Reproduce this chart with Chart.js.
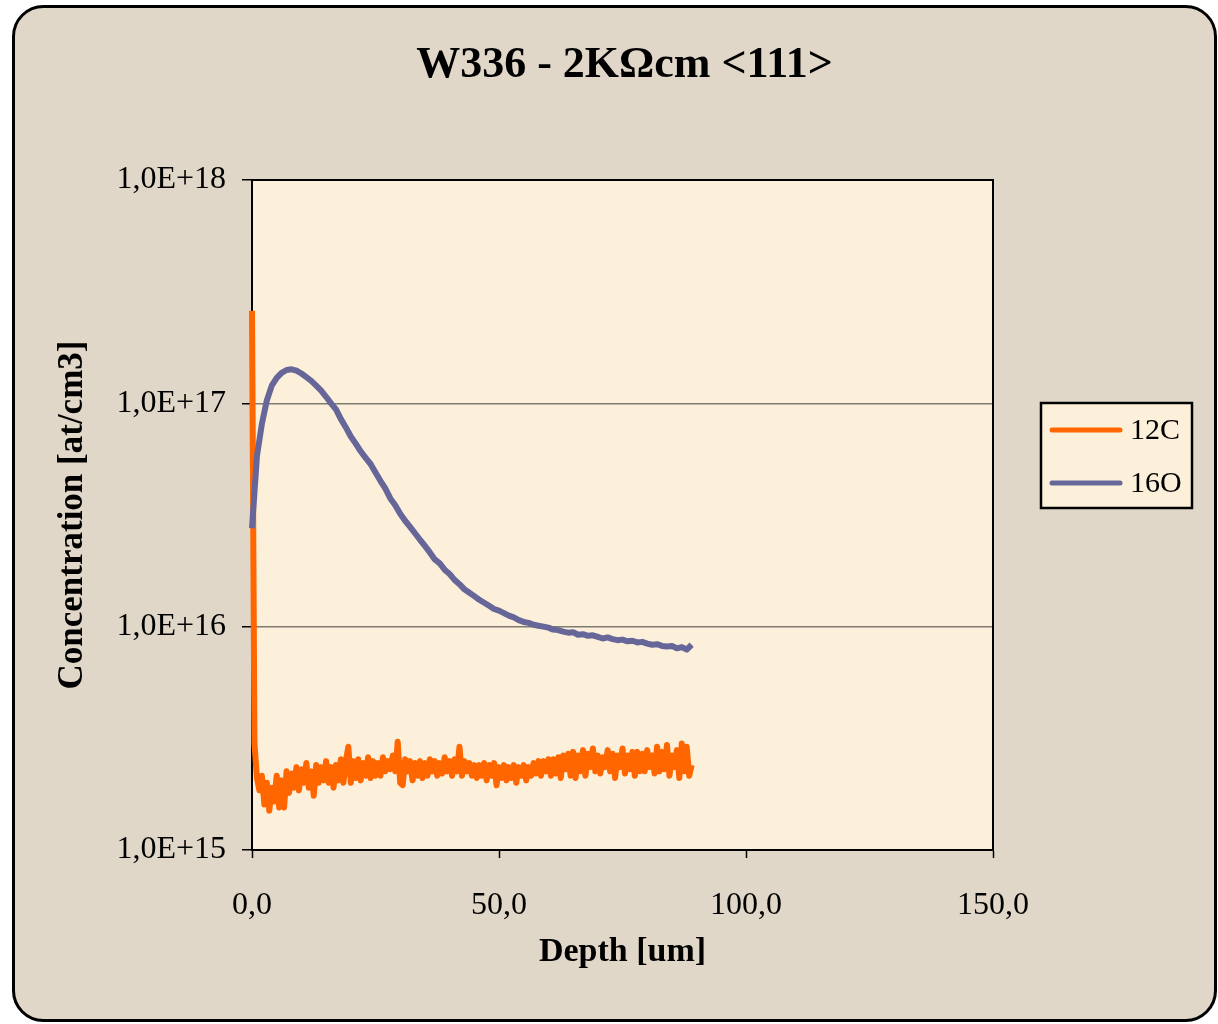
<!DOCTYPE html>
<html>
<head>
<meta charset="utf-8">
<title>W336 - 2KΩcm &lt;111&gt;</title>
<script src="https://cdn.jsdelivr.net/npm/chart.js@4.4.1/dist/chart.umd.min.js"></script>
<style>
  html, body { margin: 0; padding: 0; background: #ffffff; }
  #wrap { width: 1218px; height: 1024px; }
</style>
</head>
<body>
<div id="wrap"><canvas id="chart" width="1218" height="1024"></canvas></div>
<script>
// values, in units of 1E+15 at/cm3
const chartTitle = 'W336 - 2KΩcm <111>';
const seriesNames = ['12C', '16O'];

// 12C, one reading every 0,5 um from 0,0 to 89,0
const carbonStep = 0.5;
const carbonE15 = [
  260,
  3.0, 2.1, 1.85, 2.15, 1.6, 2.0, 1.5, 1.9, 1.65, 2.15, 1.55, 2.05, 1.55, 2.25, 1.8, 2.2,
  1.9, 2.35, 1.85, 2.3, 2.0, 2.45, 1.9, 2.25, 1.75, 2.4, 2.0, 2.35,
  2.05, 2.5, 2.0, 2.35, 1.9, 2.4, 2.05, 2.55, 2.0, 2.5, 2.9, 2.0,
  2.5, 2.1, 2.55, 2.05, 2.45, 2.15, 2.6, 2.1, 2.5, 2.15,
  2.45, 2.15, 2.6, 2.25, 2.5, 2.3, 2.65, 2.25, 3.05, 2.0,
  1.95, 2.55, 2.25, 2.5, 2.05, 2.45, 2.15, 2.5, 2.1, 2.45,
  2.15, 2.55, 2.25, 2.5, 2.15, 2.45, 2.2, 2.6, 2.25, 2.5,
  2.15, 2.55, 2.25, 2.9, 2.15, 2.5, 2.25, 2.45, 2.15, 2.4,
  2.1, 2.4, 2.15, 2.45, 2.05, 2.4, 2.15, 2.45, 1.95, 2.35,
  2.1, 2.4, 2.05, 2.35, 2.1, 2.4, 2.0, 2.35, 2.15, 2.4,
  2.05, 2.35, 2.15, 2.45, 2.2, 2.5, 2.15, 2.5, 2.25, 2.55,
  2.15, 2.55, 2.2, 2.6, 2.1, 2.65, 2.3, 2.7, 2.15, 2.75,
  2.1, 2.65, 2.25, 2.8, 2.15, 2.7, 2.35, 2.85, 2.25, 2.65,
  2.2, 2.6, 2.35, 2.8, 2.25, 2.7, 2.1, 2.65, 2.35, 2.85,
  2.2, 2.65, 2.3, 2.75, 2.15, 2.75, 2.25, 2.7, 2.25, 2.8,
  2.35, 2.65, 2.2, 2.9, 2.25, 2.75, 2.3, 2.95, 2.15, 2.65,
  2.35, 2.8, 2.1, 3.0, 2.25, 2.9, 2.15, 2.4
];

// 16O, one reading every 1 um from 0 to 89
const oxygenStep = 1;
const oxygenE15 = [
  27.6, 58, 81, 103, 120, 130, 137, 141, 142, 140,
  136, 131, 126, 120, 114, 107, 100, 94, 85, 78,
  71, 66, 61, 57, 53.5, 49, 45, 41.5, 37.5, 35,
  32, 29.8, 28, 26.2, 24.5, 23, 21.5, 20, 19.2, 18,
  17.2, 16.2, 15.5, 14.7, 14.2, 13.7, 13.2, 12.8, 12.4, 12,
  11.8, 11.5, 11.2, 11, 10.7, 10.5, 10.4, 10.2, 10.1, 10,
  9.9, 9.7, 9.65, 9.5, 9.4, 9.45, 9.2, 9.25, 9.1, 9.15,
  9.0, 8.85, 8.95, 8.8, 8.7, 8.75, 8.6, 8.65, 8.5, 8.55,
  8.4, 8.3, 8.35, 8.2, 8.15, 8.2, 8.0, 8.1, 7.9, 8.3
];

const xTicks = [0, 50, 100, 150];
const xTickLabels = ['0,0', '50,0', '100,0', '150,0'];
const yTicks = [1e15, 1e16, 1e17, 1e18];
const yTickLabels = ['1,0E+15', '1,0E+16', '1,0E+17', '1,0E+18'];

const seriesColors = ['#FF6600', '#666699'];

function toPoints(values, step) {
  return values.map((v, i) => ({ x: i * step, y: v * 1e15 }));
}

const serif = "'Liberation Serif', 'Times New Roman', serif";

// page backdrop, plot box, title over the plot and the legend frame
const excelLook = {
  id: 'excelLook',
  beforeDraw(chart) {
    const ctx = chart.ctx;
    const a = chart.chartArea;
    ctx.save();
    ctx.fillStyle = '#ffffff';
    ctx.fillRect(0, 0, chart.width, chart.height);
    ctx.beginPath();
    ctx.roundRect(13.5, 6.5, 1202, 1014, 30);
    ctx.fillStyle = '#E1D7C8';
    ctx.fill();
    ctx.lineWidth = 3;
    ctx.strokeStyle = '#000000';
    ctx.stroke();
    ctx.fillStyle = '#FCF0DA';
    ctx.fillRect(a.left, a.top, a.right - a.left, a.bottom - a.top);
    ctx.restore();
  },
  beforeDatasetsDraw(chart) {
    const ctx = chart.ctx;
    const a = chart.chartArea;
    ctx.save();
    ctx.strokeStyle = '#000000';
    ctx.lineWidth = 2;
    ctx.beginPath();
    ctx.moveTo(a.left, a.top);
    ctx.lineTo(a.right, a.top);
    ctx.lineTo(a.right, a.bottom);
    ctx.stroke();
    ctx.restore();
  },
  afterDraw(chart) {
    const ctx = chart.ctx;
    const a = chart.chartArea;
    ctx.save();
    ctx.fillStyle = '#000000';
    ctx.font = 'bold 44px ' + serif;
    ctx.textAlign = 'center';
    ctx.textBaseline = 'alphabetic';
    ctx.fillText(chartTitle, (a.left + a.right) / 2 + 2, 77);

    ctx.fillStyle = '#FCF0DA';
    ctx.fillRect(1041, 403, 151, 105);
    ctx.strokeStyle = '#000000';
    ctx.lineWidth = 2.5;
    ctx.strokeRect(1041, 403, 151, 105);
    ctx.font = '30px ' + serif;
    ctx.textAlign = 'left';
    ctx.textBaseline = 'middle';
    ctx.lineCap = 'round';
    chart.data.datasets.forEach((ds, i) => {
      const y = 430 + i * 53;
      ctx.strokeStyle = ds.borderColor;
      ctx.lineWidth = 5;
      ctx.beginPath();
      ctx.moveTo(1052, y);
      ctx.lineTo(1120, y);
      ctx.stroke();
      ctx.fillStyle = '#000000';
      ctx.fillText(ds.label, 1130, y + 1);
    });
    ctx.restore();
  }
};

new Chart(document.getElementById('chart'), {
  type: 'line',
  data: {
    datasets: [
      {
        label: seriesNames[0],
        data: toPoints(carbonE15, carbonStep),
        borderColor: seriesColors[0],
        borderWidth: 6,
        borderJoinStyle: 'round',
        pointRadius: 0,
        tension: 0,
        clip: 8,
        order: 1
      },
      {
        label: seriesNames[1],
        data: toPoints(oxygenE15, oxygenStep),
        borderColor: seriesColors[1],
        borderWidth: 6,
        borderJoinStyle: 'round',
        pointRadius: 0,
        tension: 0,
        clip: 8,
        order: 0
      }
    ]
  },
  options: {
    responsive: false,
    animation: false,
    devicePixelRatio: 1,
    layout: { padding: { left: 20, right: 225, top: 180, bottom: 34 } },
    plugins: {
      legend: { display: false },
      tooltip: { enabled: false },
      title: { display: false }
    },
    scales: {
      x: {
        type: 'linear',
        min: 0,
        max: 150,
        afterBuildTicks: (scale) => { scale.ticks = xTicks.map(v => ({ value: v })); },
        afterFit: (scale) => { scale.height = 140; },
        ticks: {
          color: '#000000',
          font: { family: serif, size: 32 },
          padding: 28,
          maxRotation: 0,
          callback: (v, i) => xTickLabels[i]
        },
        grid: {
          drawOnChartArea: false,
          drawTicks: true,
          tickLength: 8,
          tickColor: '#000000',
          tickWidth: 1.5
        },
        border: { color: '#000000', width: 2 },
        title: {
          display: true,
          text: 'Depth [um]',
          color: '#000000',
          font: { family: serif, size: 34, weight: 'bold' },
          padding: { top: 0, bottom: 17 }
        }
      },
      y: {
        type: 'logarithmic',
        min: 1e15,
        max: 1e18,
        afterBuildTicks: (scale) => { scale.ticks = yTicks.map(v => ({ value: v })); },
        afterFit: (scale) => { scale.width = 232; },
        ticks: {
          color: '#000000',
          font: { family: serif, size: 32 },
          padding: 16,
          callback: (v, i) => yTickLabels[i]
        },
        grid: {
          color: '#7F7B70',
          lineWidth: 1.5,
          tickLength: 10,
          tickColor: '#000000',
          tickWidth: 1.5
        },
        border: { color: '#000000', width: 2 },
        title: {
          display: true,
          text: 'Concentration [at/cm3]',
          color: '#000000',
          font: { family: serif, size: 35, weight: 'bold' },
          padding: { top: 32, bottom: 0 }
        }
      }
    }
  },
  plugins: [excelLook]
});
</script>
</body>
</html>
